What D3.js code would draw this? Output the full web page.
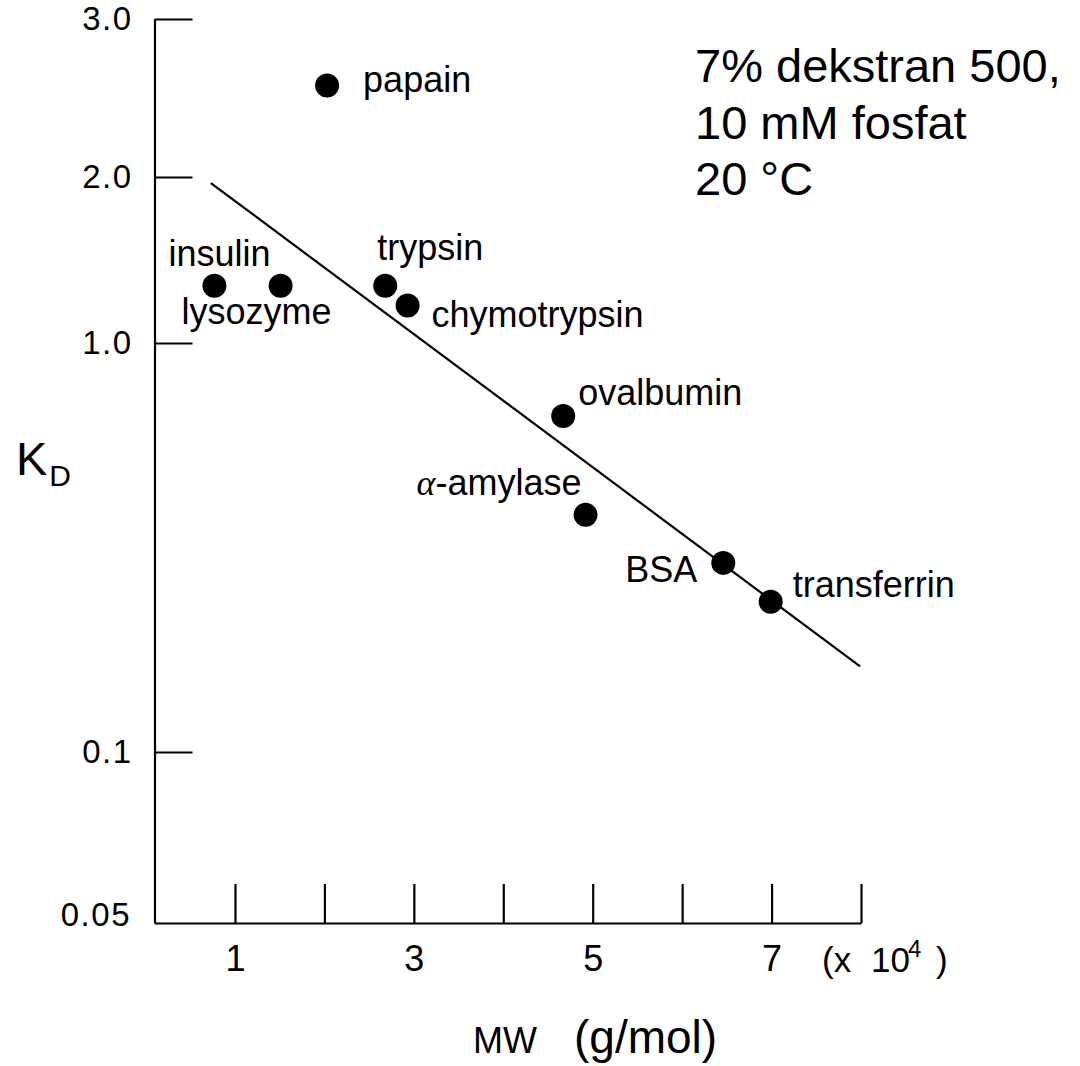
<!DOCTYPE html>
<html>
<head>
<meta charset="utf-8">
<script src="https://cdn.jsdelivr.net/npm/d3@7"></script>
<style>
  body { margin: 0; background: #fff; }
  svg { display: block; font-family: "Liberation Sans", Arial, sans-serif; }
</style>
</head>
<body>
<svg id="chart" width="1080" height="1066"></svg>
<script>
// data (MW in units of 10^4 g/mol)
const proteins = ["insulin", "lysozyme", "papain", "trypsin", "chymotrypsin",
                  "ovalbumin", "α-amylase", "BSA", "transferrin"];
const mw = [0.77, 1.51, 2.03, 2.68, 2.93, 4.67, 4.92, 6.46, 6.99];
const kd = [1.27, 1.27, 2.53, 1.27, 1.17, 0.663, 0.380, 0.290, 0.233];

// fitted line end points
const fitMw = [0.73, 7.99];
const fitKd = [1.95, 0.162];

const xTicks = [1, 2, 3, 4, 5, 6, 7, 8];
const xTickLabels = ["1", "", "3", "", "5", "", "7", ""];
const yTicks = [0.05, 0.1, 1, 2, 3];
const yTickLabels = ["0.05", "0.1", "1.0", "2.0", "3.0"];

const svg = d3.select("#chart");

const x = d3.scaleLinear()
  .domain([0.1, 8])
  .range([154.5, 861]);

// the printed axis is not a clean log axis, so use a piecewise log scale
const y = d3.scaleLog()
  .domain([0.05, 0.1, 1, 2, 3])
  .range([923, 752, 343, 177, 19]);

// y axis, ticks point inward
const yAxis = svg.append("g")
  .attr("transform", "translate(154.5,0)")
  .call(d3.axisLeft(y)
    .tickValues(yTicks.slice(1))
    .tickFormat(d => yTickLabels[yTicks.indexOf(d)])
    .tickSizeInner(-38)
    .tickSizeOuter(0)
    .tickPadding(22));
yAxis.attr("font-size", null).attr("font-family", null);
yAxis.select(".domain").attr("stroke-width", 2.2);
yAxis.selectAll(".tick line").attr("stroke-width", 2.2);
yAxis.selectAll(".tick text")
  .style("font-size", "33px")
  .attr("letter-spacing", 1.5)
  .attr("fill", "#000");

// 0.05 label sits at the x axis
svg.append("text")
  .attr("x", 131)
  .attr("y", y(0.05) - 8)
  .attr("dy", "0.32em")
  .attr("text-anchor", "end")
  .style("font-size", "33px")
  .attr("letter-spacing", 1.5)
  .text(yTickLabels[0]);

// x axis, ticks point up
const xAxis = svg.append("g")
  .attr("transform", `translate(0,${y(0.05)})`)
  .call(d3.axisBottom(x)
    .tickValues(xTicks)
    .tickFormat((d, i) => xTickLabels[i])
    .tickSizeInner(-39)
    .tickSizeOuter(0)
    .tickPadding(22));
xAxis.attr("font-size", null).attr("font-family", null);
xAxis.select(".domain").attr("stroke-width", 2.2);
xAxis.selectAll(".tick text")
  .style("font-size", "36px")
  .attr("fill", "#000");
xAxis.selectAll(".tick line").attr("stroke-width", 2.2);

// (x 10^4)
const mult = svg.append("text")
  .style("font-size", "35px")
  .attr("y", 972);
mult.append("tspan").attr("x", 822).text("(x");
mult.append("tspan").attr("x", 871).text("10");
mult.append("tspan").attr("x", 908).attr("y", 957).style("font-size", "24px").text("4");
mult.append("tspan").attr("x", 936).attr("y", 972).text(")");

// fitted line
svg.append("line")
  .attr("x1", x(fitMw[0]))
  .attr("y1", y(fitKd[0]))
  .attr("x2", x(fitMw[1]))
  .attr("y2", y(fitKd[1]))
  .attr("stroke", "#000")
  .attr("stroke-width", 2.2);

// points
svg.selectAll(".pt")
  .data(proteins)
  .enter()
  .append("circle")
  .attr("class", "pt")
  .attr("cx", (d, i) => x(mw[i]))
  .attr("cy", (d, i) => y(kd[i]))
  .attr("r", 12)
  .attr("fill", "#000");

// label placement relative to each point
const labelOffset = {
  "insulin":      { dx: -46, dy: -20, anchor: "start" },
  "lysozyme":     { dx: -99, dy: 38, anchor: "start" },
  "papain":       { dx: 36, dy: 7, anchor: "start" },
  "trypsin":      { dx: -8, dy: -26, anchor: "start" },
  "chymotrypsin": { dx: 24, dy: 22, anchor: "start" },
  "ovalbumin":    { dx: 15, dy: -11, anchor: "start" },
  "α-amylase":    { dx: -4, dy: -20, anchor: "end" },
  "BSA":          { dx: -26, dy: 19, anchor: "end" },
  "transferrin":  { dx: 22, dy: -5, anchor: "start" }
};

const labels = svg.selectAll(".lbl")
  .data(proteins)
  .enter()
  .append("text")
  .attr("class", "lbl")
  .attr("x", (d, i) => x(mw[i]) + labelOffset[d].dx)
  .attr("y", (d, i) => y(kd[i]) + labelOffset[d].dy)
  .attr("text-anchor", d => labelOffset[d].anchor)
  .style("font-size", "36px")
  .attr("fill", "#000");

labels.each(function(d) {
  const t = d3.select(this);
  if (d.startsWith("α")) {
    t.append("tspan")
      .attr("font-family", "'Liberation Serif', serif")
      .attr("font-style", "italic")
      .text("α");
    t.append("tspan").text(d.slice(1));
  } else {
    t.text(d);
  }
});

// conditions
const cond = ["7% dekstran 500,", "10 mM fosfat", "20 °C"];
svg.selectAll(".cond")
  .data(cond)
  .enter()
  .append("text")
  .attr("class", "cond")
  .attr("x", 695)
  .attr("y", (d, i) => 82 + i * 56.5)
  .style("font-size", "47px")
  .text(d => d);

// y label K_D
const kLabel = svg.append("text")
  .attr("x", 16)
  .attr("y", 475)
  .style("font-size", "47px");
kLabel.append("tspan").text("K");
kLabel.append("tspan")
  .style("font-size", "30px")
  .attr("dy", 11)
  .attr("dx", 2)
  .text("D");

// x label
svg.append("text")
  .attr("x", 473)
  .attr("y", 1053)
  .style("font-size", "36px")
  .text("MW");
svg.append("text")
  .attr("x", 574)
  .attr("y", 1053)
  .style("font-size", "46px")
  .text("(g/mol)");
</script>
</body>
</html>
